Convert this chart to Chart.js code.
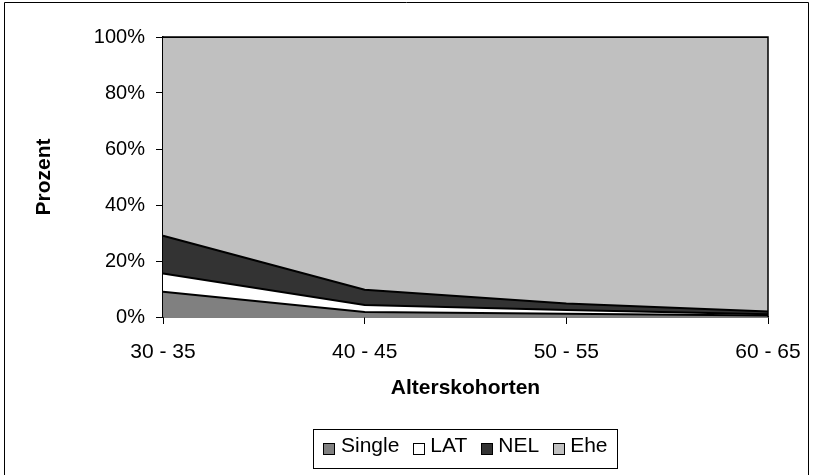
<!DOCTYPE html>
<html>
<head>
<meta charset="utf-8">
<script src="https://cdn.jsdelivr.net/npm/chart.js@4.4.1/dist/chart.umd.min.js"></script>
<style>
  html, body { margin: 0; padding: 0; background: #fff; }
  #wrap { width: 820px; height: 475px; position: relative; }
</style>
</head>
<body>
<div id="wrap"><canvas id="c" width="820" height="475"></canvas></div>
<script>
const categories = ['30 - 35', '40 - 45', '50 - 55', '60 - 65'];
const single = [9.0, 1.8, 1.2, 0.5];
const lat    = [6.5, 2.5, 1.3, 0.5];
const nel    = [13.5, 5.4, 2.3, 1.0];
const ehe    = [71.0, 90.3, 95.2, 98.0];
const seriesNames = ['Single', 'LAT', 'NEL', 'Ehe'];
const seriesColors = ['#808080', '#ffffff', '#333333', '#c0c0c0'];
const yTicks = [0, 20, 40, 60, 80, 100];

const FONT = 'Arial, "Liberation Sans", sans-serif';
const allSeries = [single, lat, nel, ehe];

const datasets = allSeries.map((d, i) => ({
  label: seriesNames[i],
  data: d,
  backgroundColor: seriesColors[i],
  borderColor: '#000000',
  borderWidth: 2,
  fill: i === 0 ? 'origin' : '-1',
  pointRadius: 0,
  pointHoverRadius: 0,
  tension: 0
}));

const framePlugin = {
  id: 'frame',
  beforeDraw(chart) {
    const ctx = chart.ctx;
    ctx.save();
    ctx.fillStyle = '#fff';
    ctx.fillRect(0, 0, chart.width, chart.height);
    ctx.strokeStyle = '#000';
    ctx.lineWidth = 1;
    ctx.beginPath();
    ctx.moveTo(4.5, chart.height + 2);
    ctx.lineTo(4.5, 2.5);
    ctx.lineTo(808.5, 2.5);
    ctx.lineTo(808.5, chart.height + 2);
    ctx.stroke();
    ctx.restore();
  },
  afterDatasetsDraw(chart) {
    const ctx = chart.ctx;
    const a = chart.chartArea;
    ctx.save();
    ctx.strokeStyle = '#000';
    ctx.lineWidth = 1.5;
    ctx.beginPath();
    ctx.moveTo(a.left, a.top);
    ctx.lineTo(a.right, a.top);
    ctx.lineTo(a.right, a.bottom);
    ctx.stroke();
    ctx.restore();
  },
  afterDraw(chart) {
    const ctx = chart.ctx;
    ctx.save();
    ctx.font = '21px ' + FONT;
    const sq = 11, gapSq = 6.5, gapItem = 13.5;
    let total = 0;
    const widths = seriesNames.map(n => ctx.measureText(n).width);
    widths.forEach((w, i) => { total += sq + gapSq + w + (i < widths.length - 1 ? gapItem : 0); });
    const a = chart.chartArea;
    const cx = (a.left + a.right) / 2;
    const boxW = 304, boxTop = 429, boxH = 39;
    ctx.strokeStyle = '#000';
    ctx.lineWidth = 1;
    ctx.strokeRect(Math.round(cx - boxW / 2) - 0.5, boxTop + 0.5, boxW, boxH);
    let x = cx - total / 2;
    const baseline = 452;
    ctx.textBaseline = 'alphabetic';
    seriesNames.forEach((n, i) => {
      ctx.fillStyle = seriesColors[i];
      ctx.fillRect(Math.round(x) + 0.5, 443.5, sq, sq);
      ctx.strokeStyle = '#000';
      ctx.strokeRect(Math.round(x) + 0.5, 443.5, sq, sq);
      x += sq + gapSq;
      ctx.fillStyle = '#000';
      ctx.fillText(n, x, baseline);
      x += widths[i] + gapItem;
    });
    ctx.restore();
  }
};

new Chart(document.getElementById('c'), {
  type: 'line',
  data: { labels: categories, datasets },
  options: {
    responsive: false,
    animation: false,
    events: [],
    layout: { padding: { left: 32, right: 52, top: 37, bottom: 74 } },
    plugins: { legend: { display: false }, tooltip: { enabled: false } },
    scales: {
      x: {
        offset: false,
        grid: { drawOnChartArea: false, drawTicks: true, tickLength: 7, color: '#000' },
        border: { display: true, color: '#000', width: 1.5 },
        ticks: { color: '#000', font: { family: FONT, size: 21 }, padding: 16, maxRotation: 0 },
        title: { display: true, text: 'Alterskohorten', color: '#000', font: { family: FONT, size: 21, weight: 'bold' }, padding: { top: 10, bottom: 0 } },
        afterFit(s) { s.height = 84; }
      },
      y: {
        stacked: true,
        min: 0, max: 100,
        afterBuildTicks(s) { s.ticks = yTicks.map(v => ({ value: v })); },
        grid: { drawOnChartArea: false, drawTicks: true, tickLength: 7, color: '#000' },
        border: { display: true, color: '#000', width: 1.5 },
        ticks: { color: '#000', font: { family: FONT, size: 20 }, padding: 11, callback: v => v + '%' },
        title: { display: true, text: 'Prozent', color: '#000', font: { family: FONT, size: 21, weight: 'bold' }, padding: { top: 0, bottom: 0 } },
        afterFit(s) { s.width = 131; }
      }
    }
  },
  plugins: [framePlugin]
});
</script>
</body>
</html>
